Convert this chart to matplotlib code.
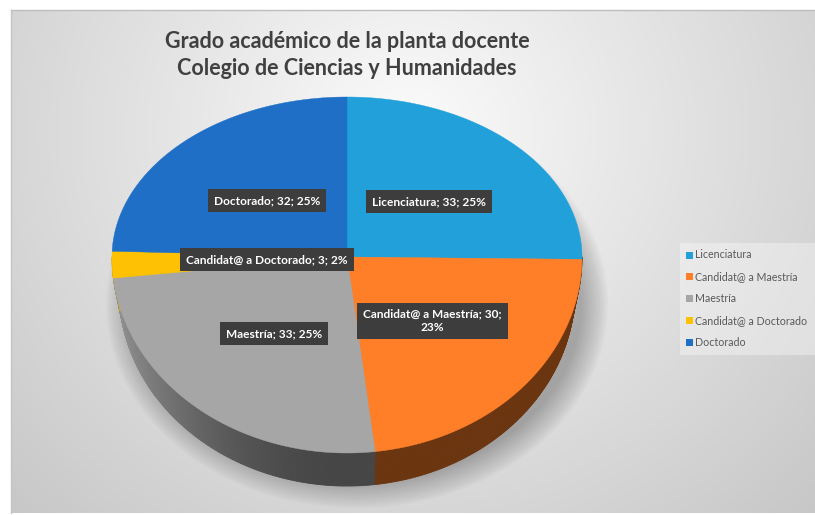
import numpy as np
import matplotlib
matplotlib.use("Agg")
import matplotlib.pyplot as plt
from matplotlib.collections import PolyCollection
from matplotlib.patches import Rectangle, Ellipse

# ---- data ----
categories = ["Licenciatura", "Candidat@ a Maestría", "Maestría",
              "Candidat@ a Doctorado", "Doctorado"]
counts = [33, 30, 33, 3, 32]
pct_labels = [25, 23, 25, 2, 25]
label_text = ["Licenciatura; 33; 25%", "Candidat@ a Maestría; 30;\n23%",
              "Maestría; 33; 25%", "Candidat@ a Doctorado; 3; 2%",
              "Doctorado; 32; 25%"]
title = "Grado académico de la planta docente\nColegio de Ciencias y Humanidades"

# ---- style ----
colors = ["#21A0DA", "#FE7F27", "#A6A6A6", "#FEC104", "#1E6FC5"]
label_r = [0.49, 0.49, 0.5, 0.34, 0.49]
FONT = "Lato"

# pie geometry in pixel space (y grows downward)
cx, cy = 347, 257
rx, ry_top, ry_bot = 235, 160, 196
depth, shrink = 33, 0.03


def proj(theta, dz=0.0, sh=0.0):
    s = np.sin(theta)
    ry = np.where(s >= 0, ry_top, ry_bot)
    return cx + rx * (1 - sh) * np.cos(theta), cy + dz - ry * s


def shade(theta):
    c = np.cos(theta)
    return 0.42 + 0.45 * np.clip(-c, 0, 1) ** 2


fig = plt.figure(figsize=(8.15, 5.15), dpi=100)
fig.patch.set_facecolor("white")
ax = fig.add_axes([0, 0, 1, 1])
ax.set_xlim(0, 815)
ax.set_ylim(515, 0)
ax.axis("off")

# background radial gradient
x0, x1, y0, y1 = 11, 815, 10, 513
gx, gy = np.meshgrid(np.arange(x0, x1), np.arange(y0, y1))
d = np.hypot((gx - 410) * 1.0, (gy - 130) * 1.05)
val = np.clip(0.985 - 0.00036 * d, 0.77, 1)
bg = np.dstack([val, val, val])
ax.imshow(bg, extent=(x0, x1, y1, y0), zorder=0, interpolation="bilinear")
ax.plot([x0, x1], [y0, y0], color="#bdbdbd", lw=1, zorder=1)
ax.plot([x0, x0], [y0, y1], color="#c4c4c4", lw=1, zorder=1)

# soft shadow under the pie
for k in range(14):
    e = Ellipse((cx + 10, cy + depth + 14), 2 * (rx - 10) + 4 * k,
                ry_top + ry_bot + 4 * k, fc="black", ec="none",
                alpha=0.018, zorder=1)
    ax.add_patch(e)

# slice angles (clockwise from 12 o'clock)
total = float(sum(counts))
fracs = np.array(counts) / total
starts = np.pi / 2 - 2 * np.pi * np.concatenate([[0], np.cumsum(fracs)[:-1]])
ends = starts - 2 * np.pi * fracs

# sides (front half only)
polys, fcs = [], []
for st, en, col in zip(starts, ends, colors):
    for shift in (0, -2 * np.pi, 2 * np.pi):
        hi = min(st + shift, 0.0)
        lo = max(en + shift, -np.pi)
        if hi <= lo:
            continue
        th = np.linspace(hi, lo, max(3, int((hi - lo) * 120)))
        tx, ty = proj(th)
        bx, by = proj(th, depth, shrink)
        base = np.array(matplotlib.colors.to_rgb(col))
        for i in range(len(th) - 1):
            polys.append([(tx[i], ty[i]), (tx[i + 1], ty[i + 1]),
                          (bx[i + 1], by[i + 1]), (bx[i], by[i])])
            f = shade(0.5 * (th[i] + th[i + 1]))
            fcs.append(tuple(base * f))
pc = PolyCollection(polys, facecolors=fcs, edgecolors=fcs, linewidths=0.6,
                    zorder=2)
ax.add_collection(pc)

# top faces
for st, en, col in zip(starts, ends, colors):
    th = np.linspace(st, en, 200)
    px, py = proj(th)
    ax.fill(np.r_[cx, px], np.r_[cy, py], color=col, lw=0.3, ec=col, zorder=3)

# data labels
for st, en, txt, r in zip(starts, ends, label_text, label_r):
    mid = 0.5 * (st + en)
    lx, ly = proj(np.array(mid))
    lx = cx + (lx - cx) * r
    ly = cy + (ly - cy) * r
    ax.text(lx, ly, txt, ha="center", va="center", fontsize=8.6,
            fontweight="bold", family=FONT, color="white", linespacing=1.3,
            bbox=dict(boxstyle="square,pad=0.5", fc="#3d3d3d", ec="none"),
            zorder=5)

# title
ax.text(cx, 55, title, ha="center", va="center", fontsize=15.5,
        fontweight="bold", family=FONT, color="#404040", linespacing=1.3,
        zorder=5)

# legend
ax.add_patch(Rectangle((680, 243), 135, 112, fc="white", ec="none",
                       alpha=0.35, zorder=4))
for i, (cat, col) in enumerate(zip(categories, colors)):
    yy = 255 + i * 21.8
    ax.add_patch(Rectangle((686, yy - 3.5), 7, 7, fc=col, ec="none", zorder=5))
    ax.text(695, yy, cat, ha="left", va="center", fontsize=7.7, family=FONT,
            color="#595959", zorder=5)

fig.savefig("out.png", dpi=100, facecolor="white")
